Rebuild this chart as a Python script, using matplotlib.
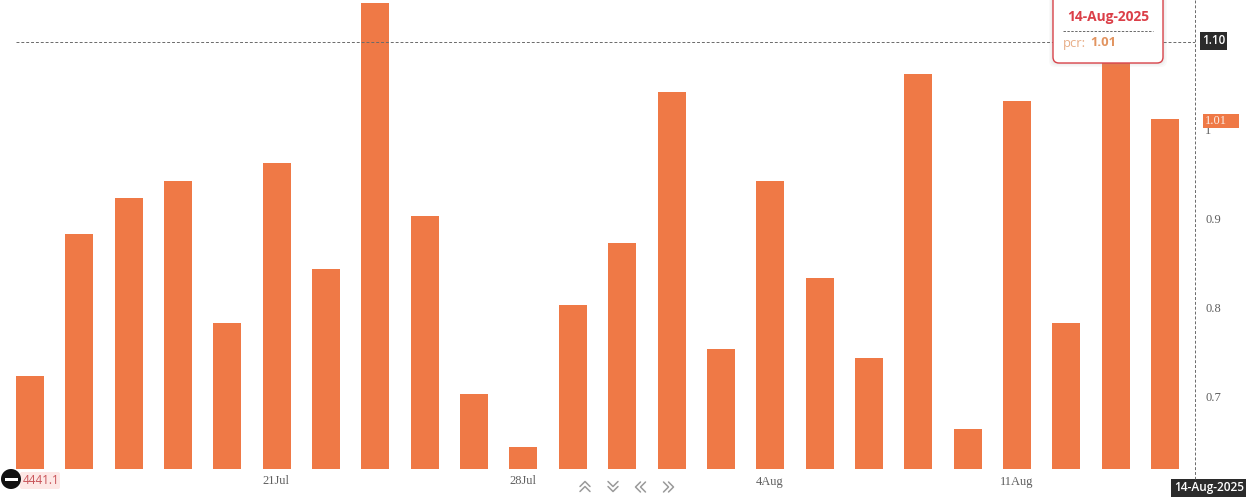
import matplotlib
matplotlib.use("Agg")
import matplotlib.pyplot as plt
from matplotlib.patches import FancyBboxPatch, Rectangle, Circle

pcr = [0.723, 0.882, 0.923, 0.942, 0.783, 0.962, 0.843, 1.141, 0.903, 0.703, 0.644, 0.803,
       0.872, 1.041, 0.754, 0.942, 0.833, 0.744, 1.062, 0.664, 1.031, 0.783, 1.09, 1.011]
date_positions = [5, 10, 15, 20]
date_labels = ["21Jul", "28Jul", "4Aug", "11Aug"]
y_ticks = [0.7, 0.8, 0.9, 1.0]
y_tick_labels = ["0.7", "0.8", "0.9", "1"]
crosshair_value = 1.097
crosshair_label = "1.10"
hover_date = "14-Aug-2025"
hover_value = "1.01"
left_label = "4441.1"

W, H = 1246, 497
BAR = "#EF7946"
GREY = "#5f5f5f"
SANS = "Open Sans"

fig = plt.figure(figsize=(W / 100, H / 100), dpi=100, facecolor="white")

# Plot area: x 0..1195 px, y 0..469 px
ax = fig.add_axes([0, 1 - 469 / H, 1195 / W, 469 / H])
step = 49.35
ax.set_xlim(-30 / step, (1195 - 30) / step)
ax.set_ylim(1 - 340 / 893, 1 + 129 / 893)
ax.bar(range(len(pcr)), pcr, width=28 / step, color=BAR, linewidth=0, zorder=2)
ax.set_xticks([])
ax.set_yticks([])
for s in ax.spines.values():
    s.set_visible(False)
ax.patch.set_alpha(0)

for p, lab in zip(date_positions, date_labels):
    ax.annotate(lab, (p, 0), xycoords=("data", "axes fraction"), xytext=(-0.5, -12.5),
                textcoords="offset pixels", ha="center", va="center",
                fontsize=9, family="Liberation Serif", color=GREY, annotation_clip=False)
for v, lab in zip(y_ticks, y_tick_labels):
    ax.annotate(lab, (1, v), xycoords=("axes fraction", "data"), xytext=(10, -1.5),
                textcoords="offset pixels", ha="left", va="center",
                fontsize=9, family="Liberation Serif", color=GREY, annotation_clip=False)
ax.axhline(crosshair_value, xmin=16 / 1195, color="#6a6a6a", lw=0.7, ls=(0, (3, 2)), zorder=3)

# Overlay in pixel coordinates for the chrome
ov = fig.add_axes([0, 0, 1, 1])
ov.set_xlim(0, W)
ov.set_ylim(H, 0)
ov.axis("off")
ov.patch.set_alpha(0)

ov.plot([1195, 1195], [0, 479], color="#6a6a6a", lw=0.7, ls=(0, (3, 2)))

# Value tags
ov.add_patch(Rectangle((1200, 32), 27, 18, fc="#2b2b2b", ec="none"))
ov.text(1213.5, 40.5, crosshair_label, color="white", fontsize=8.4, fontweight="semibold",
        family=SANS, ha="center", va="center")
ov.add_patch(Rectangle((1203, 114), 36, 14, fc=BAR, ec="none", zorder=3))
ov.text(1204.5, 120.5, hover_value, color="#fbeee6", fontsize=9,
        family="Liberation Serif", ha="left", va="center", zorder=4)

# Tooltip
for grow, a in [(4, 0.05), (2.5, 0.07), (1.2, 0.09)]:
    ov.add_patch(FancyBboxPatch((1053 - grow, -12), 110 + 2 * grow, 75 + grow,
                                boxstyle="round,pad=0,rounding_size=6", fc="#999999",
                                ec="none", alpha=a, zorder=4))
ov.add_patch(FancyBboxPatch((1053, -12), 110, 75, boxstyle="round,pad=0,rounding_size=6",
                            fc="white", ec="#D9434A", lw=1.0, zorder=5))
ov.text(1108, 17.5, hover_date, color="#DB3F48", fontsize=9.9, fontweight="bold",
        family=SANS, ha="center", va="center", zorder=6)
ov.plot([1063, 1153], [30.5, 30.5], color="#6a6a6a", lw=0.7, ls=(0, (2.5, 1.5)), zorder=6)
ov.text(1063, 43, "pcr:", color="#E8AD86", fontsize=9.4, family=SANS, ha="left", va="center", zorder=6)
ov.text(1090, 43, hover_value, color="#E29460", fontsize=9.4, fontweight="bold", family=SANS,
        ha="left", va="center", zorder=6)

# Bottom-left marker
ov.add_patch(FancyBboxPatch((20, 472), 40, 17, boxstyle="round,pad=0,rounding_size=2",
                            fc="#FDE7E5", ec="none"))
ov.text(23, 480.5, left_label, color="#C9555A", fontsize=8.4, family=SANS, ha="left", va="center")
ov.add_patch(Circle((11, 479), 10, fc="#111111", ec="none", zorder=3))
ov.add_patch(Rectangle((4.5, 477.5), 13, 3.2, fc="white", ec="none", zorder=4))

# Bottom date tag
ov.add_patch(Rectangle((1171, 479), 75, 18, fc="#2b2b2b", ec="none"))
ov.text(1209, 488, hover_date, color="white", fontsize=8.6, fontweight="semibold",
        family=SANS, ha="center", va="center")

# Navigation chevrons
nav = "#9a9a9a"
def chev(pts):
    ov.plot(*zip(*pts), color=nav, lw=1.1, solid_capstyle="round", solid_joinstyle="round")
for cx, sgn in [(585, -1), (613, 1)]:
    for off in (-3, 2):
        cy = 487 + off
        chev([(cx - 5, cy - sgn * 2.5), (cx, cy + sgn * 2.5), (cx + 5, cy - sgn * 2.5)])
for cx, sgn in [(641, -1), (669, 1)]:
    for off in (-3, 2):
        x0 = cx + off
        chev([(x0 - sgn * 2.5, 482), (x0 + sgn * 2.5, 487), (x0 - sgn * 2.5, 492)])

fig.savefig("out.png", dpi=100, facecolor="white")
